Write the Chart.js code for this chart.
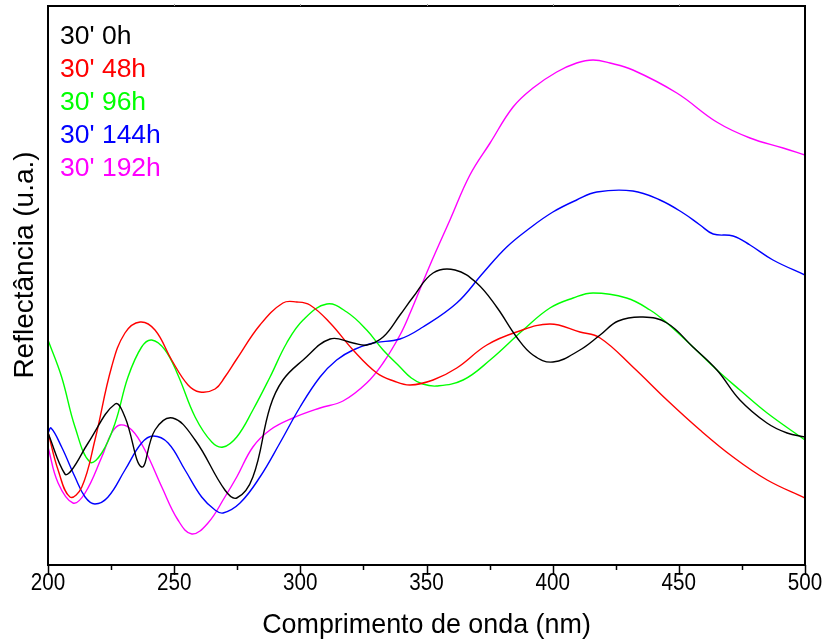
<!DOCTYPE html>
<html>
<head>
<meta charset="utf-8">
<script src="https://cdn.jsdelivr.net/npm/chart.js@4.4.1/dist/chart.umd.min.js"></script>
<style>
  body { margin: 0; background: #fff; }
  #wrap { width: 827px; height: 640px; }
</style>
</head>
<body>
<div id="wrap"><canvas id="reflChart" width="827" height="640"></canvas></div>
<script>
// wavelength (nm) and reflectance (u.a.)
const wl0h = [200, 206.7, 209.4, 215.9, 226.6, 230.5, 237.1, 242.4, 249.4, 258.3, 270.1, 274.8, 281.2, 288, 293.1, 301.1, 311.8, 320.9, 326.3, 332.8, 339.5, 344.7, 352.6, 361.3, 369.9, 377.8, 385.7, 392.2, 400.1, 410.8, 418.8, 426, 435.8, 445.3, 455.6, 465.1, 474.2, 484.9, 492.9, 500];
const r0h = [132, 91, 95, 122, 161, 148, 98, 135, 147, 125, 75, 67, 88, 158, 185, 205, 226, 222, 220, 228, 250, 268, 292, 295, 282, 258, 228, 210, 203, 215, 230, 244, 248, 242, 218, 195, 165, 142, 132, 128];

const wl48h = [200, 204, 208.7, 213.4, 218.6, 225.2, 230.5, 236.5, 242.4, 249, 255.5, 260.2, 266.2, 270.1, 274.8, 284, 293.1, 298.6, 303.8, 311.8, 320.9, 330.3, 337, 343.5, 352.6, 362, 373.9, 385.7, 398.9, 410.8, 418.8, 431.8, 445.3, 458.4, 471.5, 485, 500];
const r48h = [133, 95, 68, 78, 125, 198, 232, 243, 235, 205, 180, 173, 176, 188, 206, 240, 262, 263, 260, 242, 215, 192, 184, 180, 185, 197, 220, 233, 241, 233, 227, 198, 165, 135, 108, 85, 67];

const wl96h = [200, 205.4, 210.7, 216.6, 221.3, 226.6, 231.7, 237.1, 241.1, 246.4, 251.5, 258.3, 264.9, 269.4, 274.8, 281.2, 288, 294.6, 301.1, 310.5, 318.4, 326.3, 332.8, 339.5, 344, 348.5, 354, 364.5, 375.2, 388.3, 398.9, 408.1, 416, 429.3, 438.6, 445.3, 455.6, 465.1, 474.2, 485, 500];
const r96h = [225, 188, 138, 103, 112, 142, 188, 218, 225, 215, 190, 148, 123, 118, 128, 155, 188, 222, 245, 261, 253, 235, 215, 198, 187, 181, 179, 185, 205, 235, 257, 267, 272, 267, 255, 242, 218, 195, 175, 152, 125];

const wl144h = [200, 201.2, 205.4, 210.7, 214.7, 218.6, 223.8, 230.5, 237.1, 241.7, 247.6, 254.3, 260.9, 266.2, 269.4, 276.1, 284, 291.9, 299.9, 307.8, 314.4, 320.9, 328.8, 339.5, 348.6, 362, 372.4, 381.8, 391, 400.1, 409.5, 417.5, 431.8, 442.5, 451.7, 458.4, 463.6, 471.5, 478.2, 487.3, 500];
const r144h = [132, 137, 118, 88, 68, 61, 68, 95, 122, 129, 122, 95, 68, 55, 52, 62, 88, 122, 158, 188, 205, 215, 222, 226, 238, 262, 292, 318, 337, 353, 365, 373, 374, 365, 352, 340, 331, 329, 320, 305, 290];

const wl192h = [200, 204, 209.9, 214.7, 221.3, 225.2, 228.5, 233.2, 238.4, 245.1, 251.5, 257, 263.4, 270.1, 274.8, 281.2, 288, 297.1, 307.8, 316.9, 326.3, 332.8, 339.5, 343.5, 351.4, 359.3, 367.2, 375.2, 384.3, 392.2, 401.6, 409.5, 416, 422.7, 431.8, 449.2, 465, 478.2, 491.3, 500];
const r192h = [118, 82, 62, 72, 108, 132, 140, 135, 115, 78, 45, 31, 42, 68, 88, 118, 135, 147, 157, 164, 182, 202, 230, 252, 300, 345, 390, 422, 458, 477, 493, 502, 505, 502, 495, 472, 443, 427, 417, 410];

const seriesNames = ["30' 0h", "30' 48h", "30' 96h", "30' 144h", "30' 192h"];
const seriesColors = ['#000000', '#ff0000', '#00ff00', '#0000ff', '#ff00ff'];
const xTicks = [200, 250, 300, 350, 400, 450, 500];

function toPoints(xs, ys) {
  return xs.map((x, i) => ({ x: x, y: ys[i] }));
}

const allData = [toPoints(wl0h, r0h), toPoints(wl48h, r48h), toPoints(wl96h, r96h), toPoints(wl144h, r144h), toPoints(wl192h, r192h)];

// frame, tick marks, tick labels, titles and the coloured legend text
const framePlugin = {
  id: 'frame',
  afterDraw(chart) {
    const ctx = chart.ctx;
    const a = chart.chartArea;
    const xs = chart.scales.x;
    ctx.save();
    ctx.strokeStyle = '#000';
    ctx.lineWidth = 2;
    ctx.strokeRect(a.left, a.top, a.right - a.left, a.bottom - a.top);
    ctx.lineWidth = 1.5;
    for (let v = 200; v <= 500; v += 25) {
      const px = Math.round(xs.getPixelForValue(v)) + 0.5;
      const len = (v % 50 === 0) ? 10 : 5;
      ctx.beginPath();
      ctx.moveTo(px, a.bottom);
      ctx.lineTo(px, a.bottom + len);
      ctx.stroke();
    }
    ctx.strokeStyle = '#999';
    ctx.lineWidth = 1;
    for (let v = 250; v < 500; v += 50) {
      const px = Math.round(xs.getPixelForValue(v)) + 0.5;
      ctx.beginPath();
      ctx.moveTo(px, a.top);
      ctx.lineTo(px, a.top - 2);
      ctx.stroke();
    }

    // tick labels, condensed like the original
    ctx.fillStyle = '#000';
    ctx.font = '24px "Liberation Sans", Arial, sans-serif';
    ctx.textAlign = 'center';
    ctx.textBaseline = 'alphabetic';
    xTicks.forEach(v => {
      const px = xs.getPixelForValue(v);
      ctx.save();
      ctx.translate(px, 590);
      ctx.scale(0.86, 1);
      ctx.fillText(String(v), 0, 0);
      ctx.restore();
    });

    // x title
    ctx.save();
    ctx.font = '28px "Liberation Sans", Arial, sans-serif';
    ctx.translate((a.left + a.right) / 2, 633);
    ctx.scale(0.96, 1);
    ctx.fillText('Comprimento de onda (nm)', 0, 0);
    ctx.restore();

    // y title
    ctx.font = '28px "Liberation Sans", Arial, sans-serif';
    ctx.textBaseline = 'middle';
    ctx.translate(25, 265);
    ctx.rotate(-Math.PI / 2);
    ctx.fillText('Reflectância (u.a.)', 0, 0);
    ctx.restore();

    // legend
    ctx.save();
    ctx.font = '26.5px "Liberation Sans", Arial, sans-serif';
    ctx.textAlign = 'left';
    ctx.textBaseline = 'alphabetic';
    seriesNames.forEach((name, i) => {
      ctx.fillStyle = seriesColors[i];
      ctx.fillText(name, a.left + 12, 44 + i * 33);
    });
    ctx.restore();
  }
};

const ctx = document.getElementById('reflChart').getContext('2d');
const reflChart = new Chart(ctx, {
  type: 'line',
  data: {
    datasets: allData.map((pts, i) => ({
      label: seriesNames[i],
      data: pts,
      borderColor: seriesColors[i],
      borderWidth: 1.4,
      pointRadius: 0,
      fill: false,
      tension: 0.4
    }))
  },
  options: {
    responsive: false,
    animation: false,
    layout: { padding: { top: 6, right: 22, left: 0, bottom: 0 } },
    plugins: { legend: { display: false }, tooltip: { enabled: false } },
    scales: {
      x: {
        type: 'linear',
        min: 200,
        max: 500,
        afterFit: (scale) => { scale.height = 75; },
        grid: { display: false, drawTicks: false },
        border: { display: false },
        ticks: { display: false }
      },
      y: {
        min: 0,
        max: 559,
        afterFit: (scale) => { scale.width = 48; },
        grid: { display: false, drawTicks: false },
        border: { display: false },
        ticks: { display: false }
      }
    }
  },
  plugins: [framePlugin]
});
</script>
</body>
</html>
